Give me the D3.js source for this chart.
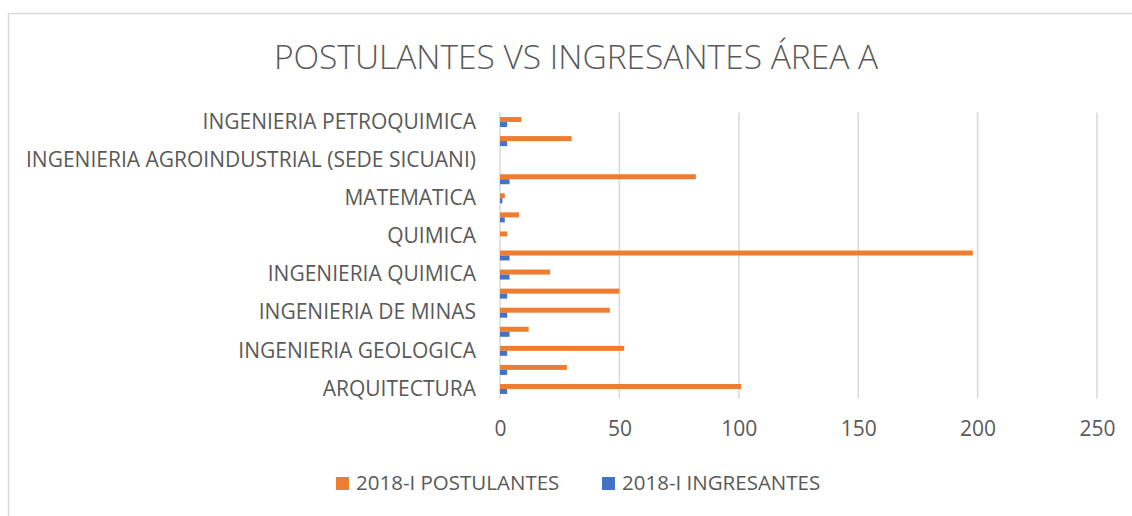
<!DOCTYPE html>
<html>
<head>
<meta charset="utf-8">
<script src="https://cdn.jsdelivr.net/npm/d3@7"></script>
<style>
  body { margin: 0; background: #fff; }
  text { font-family: "Open Sans", sans-serif; fill: #595959; }
</style>
</head>
<body>
<div id="chart"></div>
<script>
// Categories, listed bottom to top (Excel order)
const categories = [
  "ARQUITECTURA",
  "INGENIERIA ELECTRICA",
  "INGENIERIA GEOLOGICA",
  "INGENIERIA METALURGICA",
  "INGENIERIA DE MINAS",
  "INGENIERIA ELECTRONICA",
  "INGENIERIA QUIMICA",
  "INGENIERIA CIVIL",
  "QUIMICA",
  "FISICA",
  "MATEMATICA",
  "INGENIERIA INFORMATICA Y DE SISTEMAS",
  "INGENIERIA AGROINDUSTRIAL (SEDE SICUANI)",
  "INGENIERIA MECANICA",
  "INGENIERIA PETROQUIMICA"
];
const postulantes = [101, 28, 52, 12, 46, 50, 21, 198, 3, 8, 2, 82, 0, 30, 9];
const ingresantes = [3, 3, 3, 4, 3, 3, 4, 4, 0, 2, 1, 4, 0, 3, 3];
const seriesNames = ["2018-I POSTULANTES", "2018-I INGRESANTES"];
const xTicks = [0, 50, 100, 150, 200, 250];
const title = "POSTULANTES VS INGRESANTES ÁREA A";

const colors = ["#ED7D31", "#4472C4"];

const W = 1132, H = 516;
const margin = { top: 112.5, right: 35, bottom: 117.5, left: 500 },
      width  = 597,
      height = H - margin.top - margin.bottom;

const root = d3.select("#chart").append("svg")
  .attr("width", W)
  .attr("height", H);

// chart frame (runs off the right and bottom edges)
root.append("rect")
  .attr("x", 8.5).attr("y", 13.5)
  .attr("width", W + 20).attr("height", H + 20)
  .attr("fill", "none")
  .attr("stroke", "#d9d9d9")
  .attr("stroke-width", 1.5);

// title
root.append("text")
  .attr("x", 576)
  .attr("y", 69)
  .attr("text-anchor", "middle")
  .style("font-size", "33.5px")
  .style("font-weight", 300)
  .text(title);

const svg = root.append("g")
  .attr("transform", `translate(${margin.left}, ${margin.top})`);

const x = d3.scaleLinear()
  .domain([0, 250])
  .range([0, width]);

const y0 = d3.scaleBand()
  .domain(categories)
  .range([height, 0]);

const y1 = d3.scaleBand()
  .domain([0, 1])
  .range([y0.bandwidth() / 2 - 5, y0.bandwidth() / 2 + 5]);

// gridlines
svg.append("g")
  .selectAll("line")
  .data(xTicks)
  .enter()
  .append("line")
  .attr("x1", d => x(d))
  .attr("x2", d => x(d))
  .attr("y1", 0)
  .attr("y2", height)
  .attr("stroke", "#d9d9d9")
  .attr("stroke-width", 1.5);

// bars: orange above, blue below in each category
const rows = categories.map((c, i) => ({ cat: c, vals: [postulantes[i], ingresantes[i]] }));

const groups = svg.selectAll(".barGroup")
  .data(rows)
  .enter()
  .append("g")
  .attr("class", "barGroup")
  .attr("transform", d => `translate(0, ${y0(d.cat)})`);

groups.selectAll("rect")
  .data(d => d.vals.map((v, k) => ({ v, k })))
  .enter()
  .append("rect")
  .attr("x", x(0))
  .attr("y", d => y1(d.k))
  .attr("width", d => x(d.v) - x(0))
  .attr("height", y1.bandwidth())
  .attr("fill", d => colors[d.k]);

// axes
const yAxis = svg.append("g")
  .call(d3.axisLeft(y0)
    .tickValues(categories.filter((d, i) => i % 2 === 0))
    .tickSize(0)
    .tickPadding(24));
yAxis.select(".domain").remove();
yAxis.selectAll("text")
  .style("font-size", "21px")
  .style("font-family", "'Open Sans', sans-serif")
  .attr("fill", "#595959");

const xAxis = svg.append("g")
  .attr("transform", `translate(0, ${height})`)
  .call(d3.axisBottom(x)
    .tickValues(xTicks)
    .tickSize(0)
    .tickPadding(23));
xAxis.select(".domain").remove();
xAxis.selectAll("text")
  .style("font-size", "21px")
  .style("font-family", "'Open Sans', sans-serif")
  .attr("fill", "#595959");

// legend
const legendX = [336, 602];
seriesNames.forEach((name, i) => {
  root.append("rect")
    .attr("x", legendX[i])
    .attr("y", 477)
    .attr("width", 13)
    .attr("height", 13)
    .attr("fill", colors[i]);
  root.append("text")
    .attr("x", legendX[i] + 20)
    .attr("y", 490)
    .style("font-size", "20.5px")
    .text(name);
});
</script>
</body>
</html>
